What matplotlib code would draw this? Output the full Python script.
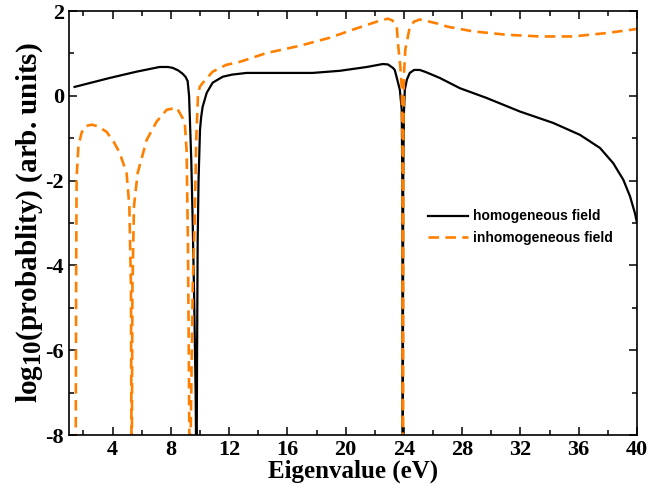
import numpy as np
import matplotlib.pyplot as plt
import matplotlib._mathtext as mathtext
from matplotlib.ticker import MultipleLocator

# du lieu doc tu pho: log10(xac suat) theo tri rieng (eV)
homo_E = [1.39, 3.79, 5.65, 7.23, 7.8, 8.12, 8.5, 8.81, 9.0, 9.15, 9.25, 9.3,
          9.4, 9.5, 9.6, 9.7, 9.76, 9.8, 9.84, 9.9, 10.0, 10.08, 10.18, 10.46,
          10.87, 11.56, 12.2, 13.2, 15.47, 17.74, 19.6, 21.45, 22.55, 22.9,
          23.24, 23.37, 23.58, 23.72, 23.85, 23.89, 23.92, 23.95, 24.0, 24.06,
          24.2, 24.4, 24.7, 25.09, 25.5, 26.47, 27.84, 29.67, 31.96, 34.25,
          36.08, 37.46, 38.37, 39.06, 39.52, 39.86, 40.0]
homo_logP = [0.21, 0.42, 0.57, 0.68, 0.68, 0.66, 0.60, 0.52, 0.45, 0.35, 0.0,
             -0.5, -1.5, -3.0, -4.8, -7.0, -9.5, -6.0, -3.4, -2.0, -0.8, -0.5,
             -0.26, 0.07, 0.31, 0.45, 0.50, 0.54, 0.54, 0.54, 0.59, 0.68, 0.75,
             0.74, 0.66, 0.61, 0.33, 0.14, -0.33, -2.0, -9.5, -2.0, -0.4, 0.14,
             0.38, 0.54, 0.61, 0.61, 0.56, 0.42, 0.18, -0.05, -0.37, -0.64,
             -0.92, -1.23, -1.59, -1.98, -2.37, -2.77, -3.0]

inhomo_E = [1.46, 1.5, 1.53, 1.65, 1.87, 2.1, 2.56, 3.0, 3.59, 4.1, 4.48, 4.96,
            5.15, 5.26, 5.31, 5.36, 5.47, 5.72, 6.34, 7.02, 7.71, 8.4, 8.95,
            9.08, 9.17, 9.23, 9.3, 9.4, 9.5, 9.63, 9.74, 9.86, 9.98, 10.2,
            10.87, 11.8, 12.72, 14.58, 16.85, 18.91, 20.49, 22.14, 22.89, 23.2,
            23.51, 23.6, 23.75, 23.85, 23.9, 23.93, 23.96, 24.0, 24.1, 24.4,
            24.7, 25.09, 26.24, 27.0, 28.75, 31.05, 33.33, 35.6, 37.9, 39.86,
            40.0]
inhomo_logP = [-9.5, -4.0, -1.93, -1.2, -0.87, -0.72, -0.68, -0.72, -0.85, -1.1,
               -1.34, -1.82, -2.6, -4.5, -9.5, -4.5, -2.6, -1.82, -1.04, -0.61,
               -0.33, -0.28, -0.61, -1.3, -3.4, -6.0, -9.5, -7.0, -4.5, -3.0,
               -1.04, -0.02, 0.21, 0.31, 0.57, 0.73, 0.80, 1.01, 1.18, 1.37,
               1.56, 1.75, 1.82, 1.78, 1.62, 1.2, 0.7, 0.2, -1.0, -9.5, -1.0,
               0.5, 1.1, 1.62, 1.75, 1.80, 1.71, 1.63, 1.52, 1.44, 1.40, 1.40,
               1.48, 1.57, 1.58]

plt.rcParams['axes.unicode_minus'] = False
plt.rcParams['mathtext.fontset'] = 'custom'
plt.rcParams['mathtext.rm'] = 'Liberation Serif:bold'
plt.rcParams['mathtext.bf'] = 'Liberation Serif:bold'
plt.rcParams['mathtext.it'] = 'Liberation Serif:bold'
# chi so duoi "10" to hon mac dinh
mathtext.SHRINK_FACTOR = 0.85

fig = plt.figure(figsize=(6.5, 4.94), dpi=100)
ax = fig.add_axes([0.106, 0.1194, 0.874, 0.8583])

ax.plot(homo_E, homo_logP, color='black', lw=1.6, label='homogeneous field')
ax.plot(inhomo_E, inhomo_logP, color='#ff8000', lw=1.9, dashes=(4, 2.4),
        label='inhomogeneous field')

ax.set_xlim(1, 40)
ax.set_ylim(-8, 2)
ax.xaxis.set_minor_locator(MultipleLocator(2))
ax.yaxis.set_major_locator(MultipleLocator(2))
ax.yaxis.set_minor_locator(MultipleLocator(1))
ax.set_xticks(np.arange(4, 41, 4))

ax.tick_params(which='both', direction='in', top=True, right=True, width=1.1)
ax.tick_params(which='major', length=6)
ax.tick_params(which='minor', length=3.5)
for sp in ax.spines.values():
    sp.set_linewidth(1.2)

for lab in ax.get_xticklabels() + ax.get_yticklabels():
    lab.set_family('Liberation Serif')
    lab.set_fontweight('bold')
    lab.set_fontsize(16)

ax.set_xlabel('Eigenvalue (eV)', family='Liberation Serif', fontweight='bold',
              fontsize=18, labelpad=0)
ax.set_ylabel(r'log$_{10}$(probablity) (arb. units)', family='Liberation Serif',
              fontweight='bold', fontsize=21, labelpad=0)

ax.legend(loc='center left', bbox_to_anchor=(0.632, 0.49), frameon=False,
          prop={'family': 'Liberation Sans', 'weight': 'bold', 'size': 10},
          handlelength=2.9, handletextpad=0.35, labelspacing=0.55,
          borderpad=0, borderaxespad=0)

plt.savefig('out.png', dpi=100)
